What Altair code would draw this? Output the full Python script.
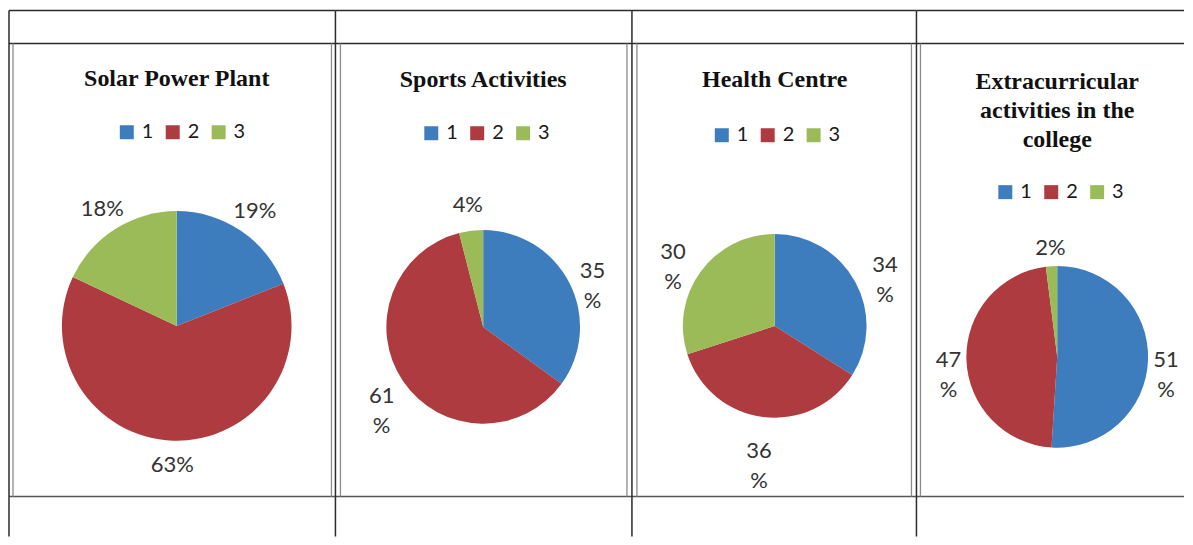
import altair as alt
import pandas as pd

# ---- data ----
CATS = ["1", "2", "3"]
COLORS = ["#3d7dbd", "#ad3b3f", "#9bbb59"]

TITLES = [
    "Solar Power Plant",
    "Sports Activities",
    "Health Centre",
    "Extracurricular\nactivities in the\ncollege",
]

SOLAR = [19, 63, 18]
SPORTS = [35, 61, 4]
HEALTH = [34, 36, 30]
EXTRA = [51, 47, 2]

SOLAR_LABELS = ["19%", "63%", "18%"]
SPORTS_LABELS = ["35\n%", "61\n%", "4%"]
HEALTH_LABELS = ["34\n%", "36\n%", "30\n%"]
EXTRA_LABELS = ["51\n%", "47\n%", "2%"]

SERIES = [SOLAR, SPORTS, HEALTH, EXTRA]
LABELS = [SOLAR_LABELS, SPORTS_LABELS, HEALTH_LABELS, EXTRA_LABELS]

# ---- layout (pixels, per panel) ----
LAYOUT = [
    dict(w=327, cx=168, cy=318, r=115, off=24, box=(4, 323), lx=108, ly=114, ty=71),
    dict(w=297, cx=148, cy=319, r=97, off=26, box=(5, 292), lx=86, ly=115, ty=72),
    dict(w=285, cx=143, cy=318, r=92, off=34, box=(5, 280), lx=80, ly=117, ty=72),
    dict(w=268, cx=141, cy=349, r=91, off=18, box=(4, None), lx=79, ly=174, ty=74),
]
H = 529
Y_TOP, Y_ROW, Y_BOT = 2, 35, 489
TABLE = "#2b2b2b"
BOXC = "#8a8a8a"


def hrule(x1, x2, y, color, sw):
    return alt.Chart(alt.Data(values=[{}])).mark_rule(color=color, strokeWidth=sw).encode(
        x=alt.value(x1), x2=alt.value(x2), y=alt.value(y))


def vrule(x, y1, y2, color, sw):
    return alt.Chart(alt.Data(values=[{}])).mark_rule(color=color, strokeWidth=sw).encode(
        x=alt.value(x), y=alt.value(y1), y2=alt.value(y2))


panels = []
for i in range(4):
    g = LAYOUT[i]
    df = pd.DataFrame({"cat": CATS, "value": SERIES[i], "label": LABELS[i]})
    base = alt.Chart(df)
    theta = alt.Theta("value:Q", stack=True)
    color = alt.Color(
        "cat:N",
        scale=alt.Scale(domain=CATS, range=COLORS),
        legend=alt.Legend(
            orient="none", legendX=g["lx"], legendY=g["ly"], direction="horizontal",
            title=None, symbolType="square", symbolSize=196, symbolStrokeWidth=0,
            labelFontSize=20, labelFont="Lato", labelColor="#1a1a1a",
            columnPadding=9, labelOffset=5, padding=0,
        ),
    )
    pie = base.mark_arc(radius=g["r"]).encode(
        theta=theta, color=color, order=alt.Order("cat:N"),
        x=alt.value(g["cx"]), y=alt.value(g["cy"]),
    )
    labels = base.mark_text(
        radius=g["r"] + g["off"], fontSize=22, font="Lato", color="#333333",
        lineBreak="\n", lineHeight=30,
    ).encode(
        theta=theta, text="label:N", detail="cat:N", order=alt.Order("cat:N"),
        x=alt.value(g["cx"]), y=alt.value(g["cy"]),
    )
    title = alt.Chart(alt.Data(values=[{"t": TITLES[i]}])).mark_text(
        font="Liberation Serif", fontWeight="bold", fontSize=24, color="#111111",
        lineBreak="\n", lineHeight=29, align="center", baseline="middle",
    ).encode(text="t:N", x=alt.value(g["cx"]), y=alt.value(g["ty"]))

    rules = [
        hrule(0, g["w"], Y_TOP, TABLE, 1.5),
        hrule(0, g["w"], Y_ROW, TABLE, 1.5),
        hrule(0, g["w"], Y_BOT, "#555555", 1.5),
        vrule(0, Y_TOP, H, TABLE, 1.5),
        vrule(g["box"][0], Y_ROW, Y_BOT, BOXC, 1.3),
    ]
    if g["box"][1] is not None:
        rules.append(vrule(g["box"][1], Y_ROW, Y_BOT, BOXC, 1.3))

    panel = alt.layer(*rules, pie, labels, title).properties(width=g["w"], height=H)
    panels.append(panel)

chart = (
    alt.hconcat(*panels, spacing=0, bounds="flush")
    .resolve_scale(color="independent", theta="independent")
    .properties(padding=0)
    .configure_view(stroke=None)
)

chart.save("out.html", embed_options={"renderer": "svg", "actions": False})
